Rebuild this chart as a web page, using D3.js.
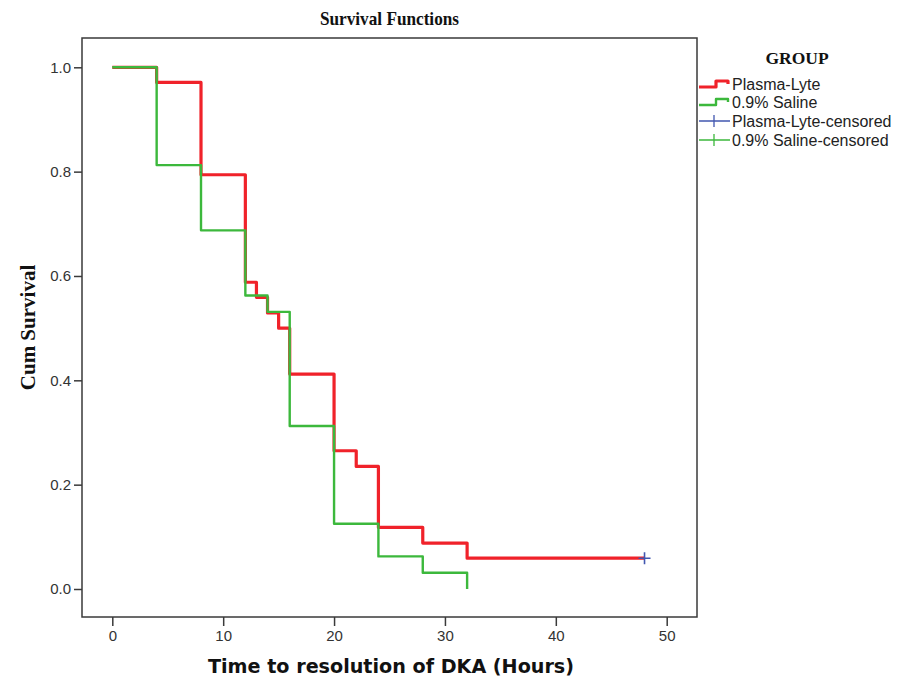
<!DOCTYPE html>
<html>
<head>
<meta charset="utf-8">
<script src="https://cdn.jsdelivr.net/npm/d3@7"></script>
<style>
  html, body { margin: 0; padding: 0; background: #fff; }
  svg { display: block; }
</style>
</head>
<body>
<svg id="chart" width="900" height="681"></svg>
<script>
// ---- data ----
const plasmaTimes = [0, 4, 8, 12, 13, 14, 15, 16, 20, 22, 24, 28, 32, 48];
const plasmaSurv  = [1, 0.971, 0.794, 0.588, 0.559, 0.529, 0.5, 0.412, 0.265, 0.235, 0.118, 0.088, 0.059, 0.059];
const salineTimes = [0, 4, 8, 12, 14, 16, 20, 24, 28, 32];
const salineSurv  = [1, 0.8125, 0.6875, 0.5625, 0.53125, 0.3125, 0.125, 0.0625, 0.03125, 0];
const censoredTimes = [48];
const censoredSurv  = [0.059];
const xTicks = [0, 10, 20, 30, 40, 50];
const yTicks = [0, 0.2, 0.4, 0.6, 0.8, 1.0];
const legendLabels = ["Plasma-Lyte", "0.9% Saline", "Plasma-Lyte-censored", "0.9% Saline-censored"];

// ---- layout ----
const svg = d3.select("#chart");
const frame = {left: 82, top: 38, right: 697, bottom: 617};
const x = d3.scaleLinear().domain([0, 50]).range([112.3, 666.7]);
const y = d3.scaleLinear().domain([0, 1]).range([589, 67.3]);

const RED = "#f0222a", GREEN = "#3cb83c", BLUE = "#4257b0", AXIS = "#3a3a3a";

// frame
svg.append("rect")
  .attr("x", frame.left).attr("y", frame.top)
  .attr("width", frame.right - frame.left).attr("height", frame.bottom - frame.top)
  .attr("fill", "none").attr("stroke", AXIS).attr("stroke-width", 1.5);

// axes
const xAxis = svg.append("g")
  .attr("transform", `translate(0,${frame.bottom})`)
  .call(d3.axisBottom(x).tickValues(xTicks).tickSize(9).tickPadding(4).tickFormat(d3.format("d")));
const yAxis = svg.append("g")
  .attr("transform", `translate(${frame.left},0)`)
  .call(d3.axisLeft(y).tickValues(yTicks).tickSize(8).tickPadding(3).tickFormat(d3.format(".1f")));
[xAxis, yAxis].forEach(g => {
  g.select(".domain").remove();
  g.selectAll(".tick line").attr("stroke", AXIS).attr("stroke-width", 1.5);
  g.selectAll(".tick text").attr("fill", "#333").style("font-family", "Arial, 'Liberation Sans', sans-serif").style("font-size", "15px");
});

// lines
const line = d3.line().curve(d3.curveStepAfter).x(d => x(d[0])).y(d => y(d[1]));
const plasma = plasmaTimes.map((t, i) => [t, plasmaSurv[i]]);
const saline = salineTimes.map((t, i) => [t, salineSurv[i]]);
svg.append("path").attr("d", line(plasma)).attr("fill", "none")
  .attr("stroke", RED).attr("stroke-width", 3.2).attr("stroke-linejoin", "round");
svg.append("path").attr("d", line(saline)).attr("fill", "none")
  .attr("stroke", GREEN).attr("stroke-width", 2.4).attr("stroke-linejoin", "round");

// censor marks
censoredTimes.forEach((t, i) => {
  const cx = x(t), cy = y(censoredSurv[i]);
  svg.append("path").attr("d", `M${cx-6},${cy}H${cx+6}M${cx},${cy-6}V${cy+6}`)
    .attr("stroke", BLUE).attr("stroke-width", 1.6).attr("fill", "none");
});

// title
svg.append("text").attr("x", (frame.left + frame.right) / 2).attr("y", 25)
  .attr("text-anchor", "middle")
  .style("font-family", "'Liberation Serif', 'Times New Roman', serif")
  .style("font-weight", "bold").style("font-size", "19px").attr("fill", "#111")
  .attr("textLength", 139).attr("lengthAdjust", "spacingAndGlyphs")
  .text("Survival Functions");

// y title
svg.append("text")
  .attr("transform", `translate(35,${(frame.top + frame.bottom) / 2}) rotate(-90)`)
  .attr("text-anchor", "middle")
  .style("font-family", "'Liberation Serif', 'Times New Roman', serif")
  .style("font-weight", "bold").style("font-size", "21px").attr("fill", "#111")
  .text("Cum Survival");

// x title
svg.append("text").attr("x", 391).attr("y", 673)
  .attr("text-anchor", "middle")
  .style("font-family", "'DejaVu Sans', Verdana, sans-serif")
  .style("font-weight", "bold").style("font-size", "19px").attr("fill", "#111")
  .attr("textLength", 366).attr("lengthAdjust", "spacingAndGlyphs")
  .text("Time to resolution of DKA (Hours)");

// legend
svg.append("text").attr("x", 797).attr("y", 64)
  .attr("text-anchor", "middle")
  .style("font-family", "'Liberation Serif', 'Times New Roman', serif")
  .style("font-weight", "bold").style("font-size", "17.5px").attr("fill", "#111")
  .text("GROUP");

const legY = [84, 102, 121, 140];
const legColors = [RED, GREEN, BLUE, GREEN];
legendLabels.forEach((lab, i) => {
  const ly = legY[i];
  if (i < 2) {
    const w = i === 0 ? 3.2 : 2.4;
    svg.append("path")
      .attr("d", `M699,${ly+3}H716V${ly-3}H728V${ly}`)
      .attr("fill", "none").attr("stroke", legColors[i]).attr("stroke-width", w)
      .attr("stroke-linejoin", "round");
  } else {
    svg.append("path")
      .attr("d", `M699,${ly}H730M714,${ly-6}V${ly+6}`)
      .attr("fill", "none").attr("stroke", legColors[i]).attr("stroke-width", 1.3);
  }
  svg.append("text").attr("x", 732).attr("y", ly + 5.5)
    .style("font-family", "Arial, 'Liberation Sans', sans-serif")
    .style("font-size", "16px").attr("fill", "#222")
    .text(lab);
});
</script>
</body>
</html>
